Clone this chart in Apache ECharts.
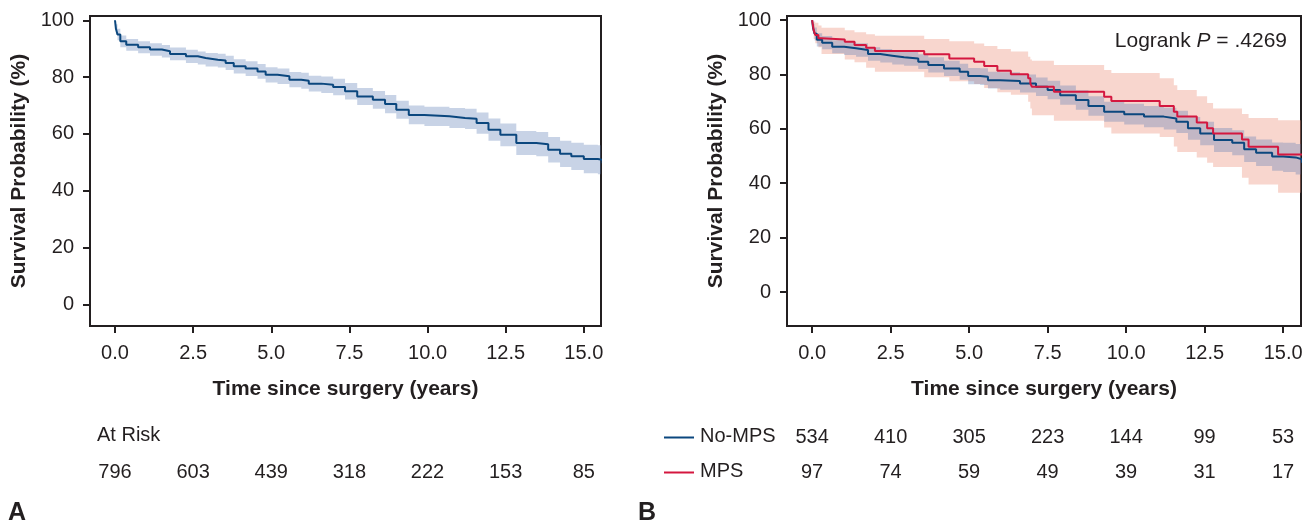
<!DOCTYPE html>
<html>
<head>
<meta charset="utf-8">
<script src="https://cdn.jsdelivr.net/npm/echarts@6/dist/echarts.min.js"></script>
<style>
  html, body { margin: 0; padding: 0; background: #fff; }
  #main { width: 1314px; height: 525px; }
</style>
</head>
<body>
<div id="main"></div>
<script>
// ---- data ----
// panel A: whole cohort
var timeA = [0, 0.03, 0.08, 0.17, 0.36, 0.74, 1.12, 1.5, 1.76, 2.27, 2.65, 2.9, 3.29, 3.54, 3.8, 4.18, 4.56, 4.82, 5.2, 5.58, 5.96, 6.2, 6.6, 6.98, 7.36, 7.75, 8.25, 8.64, 9.0, 9.4, 9.9, 10.7, 11.2, 11.57, 11.95, 12.33, 12.84, 13.48, 13.86, 14.24, 14.6, 15.0, 15.45, 15.6];
var survA = [100, 97, 95, 92.6, 91.4, 90.5, 89.7, 89.1, 88.1, 87.3, 86.7, 86.1, 85.8, 85.0, 83.8, 83.0, 82.0, 80.8, 80.3, 79.1, 78.7, 77.7, 77.3, 76.5, 75.0, 73.2, 72.0, 70.5, 68.5, 66.7, 66.2, 65.6, 65.3, 63.8, 61.5, 59.7, 56.8, 56.4, 54.4, 53.0, 52.1, 51.2, 50.9, 49.7];
var lowA = [100, 95, 93, 90.5, 89.3, 88.4, 87.5, 86.9, 85.9, 85.0, 84.4, 83.7, 83.4, 82.5, 81.3, 80.4, 79.4, 78.1, 77.6, 76.4, 75.9, 74.9, 74.4, 73.6, 72.1, 70.2, 68.9, 67.3, 65.3, 63.4, 62.8, 62.1, 61.7, 60.1, 57.6, 55.7, 52.6, 52.1, 49.9, 48.4, 47.3, 46.2, 45.8, 44.4];
var highA = [100, 98.6, 97, 94.6, 93.4, 92.6, 91.9, 91.3, 90.4, 89.6, 89.0, 88.5, 88.2, 87.5, 86.3, 85.6, 84.6, 83.5, 83.0, 81.8, 81.5, 80.5, 80.2, 79.4, 77.9, 76.2, 75.1, 73.7, 71.7, 70.0, 69.6, 69.1, 68.9, 67.5, 65.4, 63.7, 61.0, 60.7, 58.9, 57.6, 56.9, 56.2, 56.0, 55.0];

// panel B: No-MPS
var timeNo = [0, 0.03, 0.08, 0.15, 0.32, 0.64, 1.02, 1.4, 1.78, 2.17, 2.55, 2.93, 3.38, 3.7, 4.2, 4.7, 4.97, 5.35, 5.6, 5.99, 6.62, 7.13, 7.5, 7.9, 8.4, 8.8, 9.3, 9.94, 10.57, 11.2, 11.6, 11.97, 12.36, 12.8, 13.38, 13.76, 14.14, 14.65, 15.0, 15.4, 15.6];
var survNo = [100, 97, 95, 92.8, 91.7, 90.2, 89.6, 89.0, 87.5, 86.9, 86.3, 85.9, 84.7, 83.5, 82.2, 81.0, 79.4, 79.2, 77.9, 77.6, 76.7, 75.5, 74.3, 72.4, 70.6, 68.4, 66.3, 65.4, 64.5, 63.8, 62.6, 60.2, 58.3, 55.9, 54.9, 52.5, 51.2, 49.8, 49.5, 48.8, 47.5];
var lowNo = [100, 95, 92.5, 90.3, 89.3, 87.8, 87.2, 86.5, 85, 84.4, 83.7, 83.2, 82, 80.7, 79.4, 78.1, 76.4, 76.1, 74.8, 74.4, 73.4, 72.1, 70.9, 68.9, 67.0, 64.8, 62.6, 61.6, 60.6, 59.8, 58.5, 56.0, 54.0, 51.5, 50.3, 47.8, 46.3, 44.6, 44.1, 43.2, 41.8];
var highNo = [100, 98.5, 97.3, 95.2, 94.1, 92.6, 92.0, 91.5, 90.0, 89.4, 88.9, 88.6, 87.4, 86.3, 85.0, 83.9, 82.4, 82.3, 81.0, 80.8, 80.0, 78.9, 77.7, 75.9, 74.2, 72.0, 70.0, 69.2, 68.4, 67.8, 66.7, 64.4, 62.6, 60.3, 59.5, 57.2, 56.1, 55.0, 54.9, 54.4, 53.2];

// panel B: MPS
var timeMps = [0, 0.05, 0.1, 0.2, 0.3, 1.04, 1.35, 1.72, 2.0, 3.57, 4.37, 5.16, 5.48, 5.9, 6.33, 6.88, 6.95, 7.0, 7.7, 9.3, 9.53, 11.07, 11.52, 11.63, 12.25, 12.58, 12.77, 13.69, 13.9, 14.84, 15.6];
var survMps = [100, 96.3, 94.5, 93.3, 92.9, 92.0, 90.8, 89.8, 88.6, 87.4, 85.9, 84.7, 83.1, 81.4, 80.1, 78.6, 76.7, 75.5, 73.6, 71.8, 70.2, 68.4, 66.3, 64.5, 62.3, 60.2, 58.3, 56.1, 53.4, 50.6, 50.6];
var lowMps = [100, 93, 91.5, 90, 87.5, 85.5, 84.5, 82.5, 81, 79, 77.5, 76.5, 75, 73.5, 72.5, 70, 67.5, 65, 63, 60.5, 58.3, 57, 53.5, 51.5, 49.5, 47.5, 46, 42, 39.5, 36.5, 36.5];
var highMps = [100, 99.5, 99, 98, 97.2, 96.3, 95.5, 94.8, 94.2, 93.0, 92.2, 91.4, 90.5, 89.4, 88.4, 86.5, 85.5, 85.0, 83.5, 81.6, 80.5, 78.6, 76, 74.3, 72, 69.5, 67.5, 65.5, 64, 63.2, 63.2];

// numbers at risk
var riskTimes = [0, 2.5, 5, 7.5, 10, 12.5, 15];
var riskAll = [796, 603, 439, 318, 222, 153, 85];
var riskNoMps = [534, 410, 305, 223, 144, 99, 53];
var riskMps = [97, 74, 59, 49, 39, 31, 17];

var xTicks = [0, 2.5, 5, 7.5, 10, 12.5, 15];
var yTicks = [0, 20, 40, 60, 80, 100];

var FONT = 'Liberation Sans, Arial, Helvetica, sans-serif';
var INK = '#231f20';
var BLUE = '#0b477e';
var RED = '#d4173f';
var BLUE_BAND = 'rgba(84,119,178,0.32)';
var PINK_BAND = 'rgba(235,140,120,0.36)';

function pairs(t, v) {
	var out = [];
	for (var i = 0; i < t.length; i++) out.push([t[i], v[i]]);
	return out;
}

function plotX(gridIndex, max) {
	return {
		type: 'value', gridIndex: gridIndex, min: -0.8, max: max,
		splitLine: { show: false },
		axisLine: { show: false, onZero: false },
		axisTick: { show: true, inside: false, customValues: xTicks, length: 7, lineStyle: { color: INK, width: 2 } },
		axisLabel: {
			customValues: xTicks, margin: 17, color: INK, fontSize: 20, fontFamily: FONT,
			formatter: function (v) { return v.toFixed(1); }
		},
		name: 'Time since surgery (years)', nameLocation: 'middle', nameGap: 53,
		nameTextStyle: { color: INK, fontSize: 21, fontWeight: 'bold', fontFamily: FONT }
	};
}
function plotY(gridIndex, min) {
	return {
		type: 'value', gridIndex: gridIndex, min: min, max: 101.5,
		splitLine: { show: false },
		axisLine: { show: false, onZero: false },
		axisTick: { show: true, inside: false, customValues: yTicks, length: 7, lineStyle: { color: INK, width: 2 } },
		axisLabel: { customValues: yTicks, margin: 16, color: INK, fontSize: 20, fontFamily: FONT },
		name: 'Survival Probability (%)', nameLocation: 'middle', nameGap: 60,
		nameTextStyle: { color: INK, fontSize: 21, fontWeight: 'bold', fontFamily: FONT }
	};
}
function hiddenX(gridIndex, max) {
	return { type: 'value', gridIndex: gridIndex, min: -0.8, max: max, show: false };
}
function hiddenY(gridIndex) {
	return { type: 'value', gridIndex: gridIndex, min: 0, max: 2, show: false };
}

// confidence band as one stepped polygon
function band(xi, t, lo, hi, color) {
	return {
		type: 'custom', xAxisIndex: xi, yAxisIndex: xi, silent: true,
		data: pairs(t, hi),
		renderItem: function (params, api) {
			if (params.dataIndex !== 0) return null;
			var n = t.length, pts = [], i;
			for (i = 0; i < n; i++) {
				pts.push(api.coord([t[i], hi[i]]));
				if (i < n - 1) pts.push(api.coord([t[i + 1], hi[i]]));
			}
			for (i = n - 1; i >= 0; i--) {
				if (i < n - 1) pts.push(api.coord([t[i + 1], lo[i]]));
				pts.push(api.coord([t[i], lo[i]]));
			}
			var cs = params.coordSys;
			pts = echarts.graphic.clipPointsByRect(pts, { x: cs.x, y: cs.y, width: cs.width, height: cs.height });
			return { type: 'polygon', shape: { points: pts }, style: { fill: color } };
		}
	};
}
function kmLine(xi, t, v, color) {
	return {
		type: 'line', xAxisIndex: xi, yAxisIndex: xi, step: 'end',
		showSymbol: false, silent: true,
		lineStyle: { width: 2, color: color },
		data: pairs(t, v)
	};
}
function riskRow(xi, t, n, row) {
	var d = [];
	for (var i = 0; i < t.length; i++) d.push([t[i], row, n[i]]);
	return {
		type: 'custom', xAxisIndex: xi, yAxisIndex: xi, silent: true,
		data: d,
		renderItem: function (params, api) {
			var p = api.coord([api.value(0), api.value(1)]);
			return {
				type: 'text', x: p[0], y: p[1],
				style: {
					text: String(api.value(2)), fill: INK, font: '20px ' + FONT,
					align: 'center', verticalAlign: 'middle'
				}
			};
		}
	};
}

var dom = document.getElementById('main');
var chart = echarts.init(dom, null, { renderer: 'canvas' });

var series = [
	band(0, timeA, lowA, highA, BLUE_BAND),
	kmLine(0, timeA, survA, BLUE),
	band(1, timeMps, lowMps, highMps, PINK_BAND),
	band(1, timeNo, lowNo, highNo, BLUE_BAND),
	kmLine(1, timeNo, survNo, BLUE),
	kmLine(1, timeMps, survMps, RED),
	riskRow(2, riskTimes, riskAll, 0.5),
	riskRow(3, riskTimes, riskNoMps, 1.5),
	riskRow(3, riskTimes, riskMps, 0.5)
];

var option = {
	backgroundColor: '#fff',
	animation: false,
	textStyle: { fontFamily: FONT },
	grid: [
		{ left: 90, top: 16, width: 511, height: 310, show: true, borderColor: INK, borderWidth: 2, outerBoundsMode: 'none' },
		{ left: 787, top: 16, width: 514, height: 310, show: true, borderColor: INK, borderWidth: 2, outerBoundsMode: 'none' },
		{ left: 90, top: 420, width: 511, height: 70, outerBoundsMode: 'none' },
		{ left: 787, top: 420, width: 514, height: 70, outerBoundsMode: 'none' }
	],
	xAxis: [plotX(0, 15.55), plotX(1, 15.57), hiddenX(2, 15.55), hiddenX(3, 15.57)],
	yAxis: [plotY(0, -7.6), plotY(1, -12.5), hiddenY(2), hiddenY(3)],
	series: series,
	graphic: [
		{ type: 'text', left: 97, top: 425, silent: true,
			style: { text: 'At Risk', fill: INK, font: '20px ' + FONT } },
		{ type: 'line', silent: true, shape: { x1: 664, y1: 437.5, x2: 694, y2: 437.5 },
			style: { stroke: BLUE, lineWidth: 2 } },
		{ type: 'text', left: 700, top: 426, silent: true,
			style: { text: 'No-MPS', fill: INK, font: '20px ' + FONT } },
		{ type: 'line', silent: true, shape: { x1: 664, y1: 472.5, x2: 694, y2: 472.5 },
			style: { stroke: RED, lineWidth: 2 } },
		{ type: 'text', left: 700, top: 461, silent: true,
			style: { text: 'MPS', fill: INK, font: '20px ' + FONT } },
		{ type: 'text', left: 8, top: 501, silent: true,
			style: { text: 'A', fill: INK, font: 'bold 25px ' + FONT } },
		{ type: 'text', left: 638, top: 501, silent: true,
			style: { text: 'B', fill: INK, font: 'bold 25px ' + FONT } },
		{ type: 'text', right: 27, top: 31, silent: true,
			style: {
				text: '{a|Logrank }{p|P}{a| = .4269}', fill: INK,
				rich: {
					a: { fontSize: 21, fontFamily: FONT, fill: INK },
					p: { fontSize: 21, fontFamily: FONT, fontStyle: 'italic', fill: INK }
				}
			} }
	]
};

chart.setOption(option, true);
window.addEventListener('resize', function () {
	chart.resize();
});
</script>
</body>
</html>
